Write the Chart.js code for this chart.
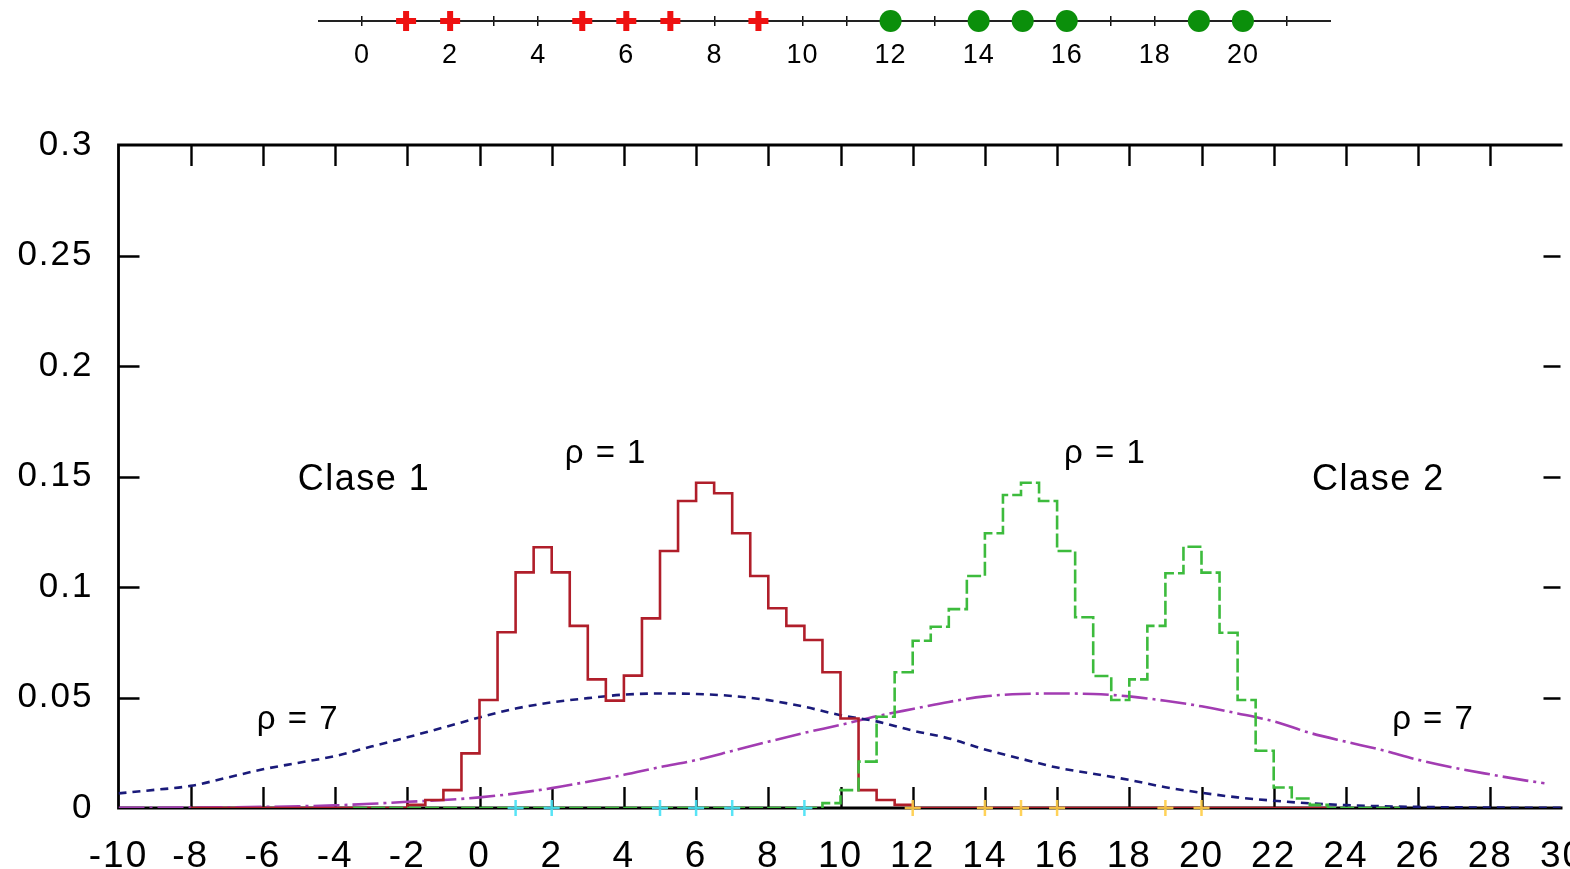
<!DOCTYPE html>
<html>
<head>
<meta charset="utf-8">
<script src="https://cdn.jsdelivr.net/npm/chart.js@4.4.1/dist/chart.umd.min.js"></script>
<style>
  html, body { margin: 0; padding: 0; background: #ffffff; overflow: hidden; width: 1570px; height: 869px; }
  #main { position: absolute; left: 0; top: 0; width: 1600px; height: 869px; }
  #numline { position: absolute; left: 0; top: 0; width: 1570px; height: 80px; }
</style>
</head>
<body>
<canvas id="main" width="1600" height="869"></canvas>
<canvas id="numline" width="1570" height="80"></canvas>
<script>
// Training samples of the two classes
const class1Points = [1, 2, 5, 6, 7, 9];
const class2Points = [12, 14, 15, 16, 19, 20];

// Parzen estimate with narrow window (rho = 1), bin left edges and heights
const class1NarrowEdges = [-8, -2, -1.5, -1, -0.5, 0, 0.5, 1, 1.5, 2, 2.5, 3, 3.5, 4, 4.5, 5, 5.5, 6, 6.5, 7, 7.5, 8, 8.5, 9, 9.5, 10, 10.5, 11, 11.5, 12, 23.5];
const class1NarrowDensity = [0, 0.0014, 0.0036, 0.0081, 0.0247, 0.0489, 0.0795, 0.1066, 0.118, 0.1066, 0.0824, 0.0582, 0.0486, 0.0599, 0.0858, 0.1163, 0.1389, 0.1472, 0.1424, 0.1243, 0.105, 0.0904, 0.0824, 0.076, 0.0614, 0.0405, 0.0081, 0.0036, 0.0014, 0, 0];

const class2NarrowEdges = [-3.5, 9.5, 10, 10.5, 11, 11.5, 12, 12.5, 13, 13.5, 14, 14.5, 15, 15.5, 16, 16.5, 17, 17.5, 18, 18.5, 19, 19.5, 20, 20.5, 21, 21.5, 22, 22.5, 23, 23.5, 25.5];
const class2NarrowDensity = [0, 0.0022, 0.0081, 0.021, 0.0413, 0.0614, 0.0757, 0.082, 0.09, 0.105, 0.1243, 0.1416, 0.1472, 0.1389, 0.1163, 0.0863, 0.0597, 0.0489, 0.0582, 0.0824, 0.1062, 0.1182, 0.1065, 0.0793, 0.0489, 0.0259, 0.0093, 0.0043, 0.0014, 0, 0];

// Parzen estimate with wide window (rho = 7)
const class1WideX = [-10, -9, -8, -7, -6, -5, -4, -3, -2, -1, 0, 1, 2, 3, 4, 5, 6, 7, 8, 9, 10, 11, 12, 13, 14, 15, 16, 17, 18, 19, 20, 21, 22, 23, 24, 25, 26, 27, 28, 29, 30];
const class1WideDensity = [0.0066, 0.0082, 0.0100, 0.0137, 0.0175, 0.0205, 0.0235, 0.0278, 0.0320, 0.0364, 0.0410, 0.0450, 0.0478, 0.0497, 0.0513, 0.0518, 0.0516, 0.0507, 0.0488, 0.0458, 0.0420, 0.0392, 0.0350, 0.0315, 0.0265, 0.0223, 0.0183, 0.0155, 0.0127, 0.0094, 0.0069, 0.0048, 0.0033, 0.0021, 0.0013, 0.0008, 0.0005, 0.0003, 0.0002, 0.0001, 0.0001];

const class2WideX = [-10, -9, -8, -7, -6, -5, -4, -3, -2, -1, 0, 1, 2, 3, 4, 5, 6, 7, 8, 9, 10, 11, 12, 13, 14, 15, 16, 17, 18, 19, 20, 21, 22, 23, 24, 25, 26, 27, 28, 29, 29.5];
const class2WideDensity = [0.0001, 0.0001, 0.0002, 0.0003, 0.0005, 0.0008, 0.0012, 0.0019, 0.0028, 0.0036, 0.0048, 0.0066, 0.0090, 0.0119, 0.0150, 0.0185, 0.0217, 0.0258, 0.0300, 0.0340, 0.0376, 0.0415, 0.0448, 0.0480, 0.0505, 0.0516, 0.0518, 0.0516, 0.0505, 0.0485, 0.0460, 0.0428, 0.0392, 0.0340, 0.0300, 0.0262, 0.0218, 0.0182, 0.0152, 0.0124, 0.0112];

// Axis ranges and tick steps
const xTickStep = 2;
const yTickStep = 0.05;
const xRange = [-10, 30];
const yRange = [0, 0.3];
const lineRange = [-1, 22];
const lineLabelRange = [0, 20];

// Text placed inside the plot (data coordinates)
const annotations = [
  { text: 'Clase 1', x: -3.2, y: 0.1485, size: 36 },
  { text: 'ρ = 1', x: 3.5, y: 0.160, size: 33 },
  { text: 'ρ = 1', x: 17.33, y: 0.160, size: 33 },
  { text: 'Clase 2', x: 24.9, y: 0.1485, size: 36 },
  { text: 'ρ = 7', x: -5.03, y: 0.0400, size: 33 },
  { text: 'ρ = 7', x: 26.42, y: 0.0400, size: 33 }
];

const FONT = '"Liberation Sans", Arial, Helvetica, sans-serif';
const pts = (xs, ys) => xs.map((x, i) => ({ x, y: ys[i] }));
const onAxis = xs => xs.map(x => ({ x, y: 0 }));

// Slightly spaced lettering for all canvas text
const spacingPlugin = {
  id: 'spacing',
  beforeDraw(chart, args, opts) { chart.ctx.letterSpacing = (opts.px || 0) + 'px'; }
};

// Open frame (left, bottom, top) with inward ticks on all four sides, plus in-plot labels
const framePlugin = {
  id: 'frame',
  beforeDatasetsDraw(chart) {
    const { ctx, chartArea: a, scales: { x, y } } = chart;
    const L = 21;
    ctx.save();
    ctx.strokeStyle = '#000';
    ctx.lineWidth = 2.8;
    ctx.beginPath();
    ctx.moveTo(a.right, a.top); ctx.lineTo(a.left, a.top);
    ctx.lineTo(a.left, a.bottom); ctx.lineTo(a.right, a.bottom);
    ctx.stroke();
    ctx.lineWidth = 2.4;
    ctx.beginPath();
    x.ticks.forEach(t => {
      if (t.value <= x.min || t.value >= x.max) return;
      const px = Math.round(x.getPixelForValue(t.value)) + 0.5;
      ctx.moveTo(px, a.bottom); ctx.lineTo(px, a.bottom - L);
      ctx.moveTo(px, a.top); ctx.lineTo(px, a.top + L);
    });
    y.ticks.forEach(t => {
      if (t.value <= y.min + 1e-9 || t.value >= y.max - 1e-9) return;
      const py = Math.round(y.getPixelForValue(t.value)) + 0.5;
      ctx.moveTo(a.left, py); ctx.lineTo(a.left + L, py);
      ctx.moveTo(a.right - 2, py); ctx.lineTo(a.right - 2 - 17, py);
    });
    ctx.stroke();
    ctx.restore();
  },
  afterDatasetsDraw(chart) {
    const { ctx, scales: { x, y } } = chart;
    ctx.save();
    ctx.fillStyle = '#000';
    ctx.textAlign = 'center';
    ctx.textBaseline = 'middle';
    ctx.letterSpacing = '1.5px';
    annotations.forEach(n => {
      ctx.font = n.size + 'px ' + FONT;
      ctx.fillText(n.text, x.getPixelForValue(n.x), y.getPixelForValue(n.y));
    });
    ctx.restore();
  }
};

new Chart(document.getElementById('main'), {
  type: 'scatter',
  data: {
    datasets: [
      {
        label: 'muestras clase 1',
        data: onAxis(class1Points),
        pointStyle: 'cross', pointRadius: 8, borderWidth: 2.5,
        borderColor: 'rgba(70,225,245,0.9)', showLine: false, clip: false, order: -1
      },
      {
        label: 'muestras clase 2',
        data: onAxis(class2Points),
        pointStyle: 'cross', pointRadius: 8, borderWidth: 2.5,
        borderColor: 'rgba(255,205,70,0.9)', showLine: false, clip: false, order: -1
      },
      {
        label: 'clase 2, ρ = 1',
        data: pts(class2NarrowEdges, class2NarrowDensity),
        showLine: true, stepped: 'before', borderColor: '#3dbb3d', borderWidth: 2.6,
        borderDash: [14, 4], pointRadius: 0, order: 0
      },
      {
        label: 'clase 1, ρ = 1',
        data: pts(class1NarrowEdges, class1NarrowDensity),
        showLine: true, stepped: 'before', borderColor: '#b01e2a', borderWidth: 2.6,
        pointRadius: 0, order: 1
      },
      {
        label: 'clase 1, ρ = 7',
        data: pts(class1WideX, class1WideDensity),
        showLine: true, cubicInterpolationMode: 'monotone', borderColor: '#1a1a7a', borderWidth: 2.6,
        borderDash: [8, 6], pointRadius: 0, order: 2
      },
      {
        label: 'clase 2, ρ = 7',
        data: pts(class2WideX, class2WideDensity),
        showLine: true, cubicInterpolationMode: 'monotone', borderColor: '#a23cb2', borderWidth: 2.6,
        borderDash: [26, 5, 3, 5], pointRadius: 0, order: 3
      }
    ]
  },
  options: {
    responsive: false,
    animation: false,
    devicePixelRatio: 1,
    layout: { padding: { top: 145, right: 37.5, left: 0, bottom: 0 } },
    plugins: { legend: { display: false }, tooltip: { enabled: false }, spacing: { px: 2 } },
    scales: {
      x: {
        type: 'linear', min: xRange[0], max: xRange[1],
        grid: { display: false, drawTicks: true, tickLength: 13 },
        border: { display: false },
        afterFit: s => { s.height = 61; },
        ticks: {
          stepSize: xTickStep, autoSkip: false, maxRotation: 0, padding: 14,
          color: '#000', font: { family: FONT, size: 37 },
          callback: v => String(v)
        }
      },
      y: {
        type: 'linear', min: yRange[0], max: yRange[1],
        grid: { display: false, drawTicks: false },
        border: { display: false },
        afterFit: s => { s.width = 118.5; },
        ticks: {
          stepSize: yTickStep, autoSkip: false, padding: 25,
          color: '#000', font: { family: FONT, size: 35 },
          callback: v => String(+v.toFixed(2))
        }
      }
    }
  },
  plugins: [spacingPlugin, framePlugin]
});

// Number line with the samples of both classes
new Chart(document.getElementById('numline'), {
  type: 'scatter',
  data: {
    datasets: [
      {
        label: 'clase 1',
        data: onAxis(class1Points),
        pointStyle: 'cross', pointRadius: 10, borderWidth: 6,
        borderColor: '#ee1111', backgroundColor: '#ee1111', clip: false
      },
      {
        label: 'clase 2',
        data: onAxis(class2Points),
        pointStyle: 'circle', pointRadius: 11, borderWidth: 0,
        backgroundColor: '#0b8f0b', clip: false
      },
      {
        label: 'recta',
        data: onAxis(lineRange),
        showLine: true, borderColor: '#222', borderWidth: 2, pointRadius: 0, clip: false
      }
    ]
  },
  options: {
    responsive: false,
    animation: false,
    devicePixelRatio: 1,
    layout: { padding: { top: 11, left: 318, right: 239, bottom: 0 } },
    plugins: { legend: { display: false }, tooltip: { enabled: false }, spacing: { px: 1 } },
    scales: {
      x: {
        type: 'linear', min: lineRange[0], max: lineRange[1],
        afterFit: s => { s.height = 54; },
        border: { display: false },
        grid: {
          drawTicks: false, lineWidth: 1.5,
          color: c => (c.tick && (c.tick.value <= lineRange[0] || c.tick.value >= lineRange[1])) ? 'rgba(0,0,0,0)' : '#111'
        },
        ticks: {
          stepSize: 1, autoSkip: false, maxRotation: 0, padding: 13,
          color: '#000', font: { family: FONT, size: 27 },
          callback: v => (v % 2 === 0 && v >= lineLabelRange[0] && v <= lineLabelRange[1]) ? String(v) : ''
        }
      },
      y: { display: false, min: -1, max: 1 }
    }
  },
  plugins: [spacingPlugin]
});
</script>
</body>
</html>
